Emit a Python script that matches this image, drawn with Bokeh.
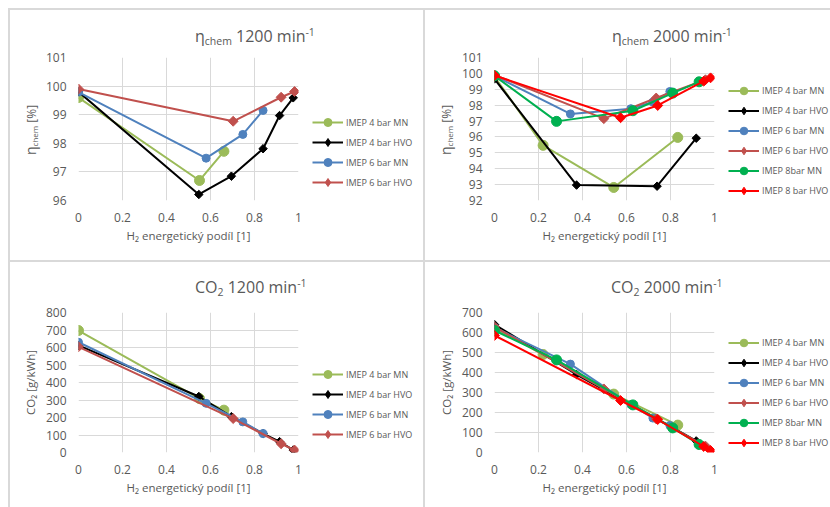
import math
from bokeh.plotting import figure
from bokeh.layouts import row, column
from bokeh.models import (Legend, LegendItem, FixedTicker, NumeralTickFormatter,
                          Range1d, Spacer, Div, InlineStyleSheet)
from bokeh.embed import file_html
from bokeh.resources import INLINE

# ---------------- data ----------------
x_ticks = [0, 0.2, 0.4, 0.6, 0.8, 1.0]
eta1200_ticks = [96, 97, 98, 99, 100, 101]
eta2000_ticks = [92, 93, 94, 95, 96, 97, 98, 99, 100, 101]
co2_1200_ticks = [0, 100, 200, 300, 400, 500, 600, 700, 800]
co2_2000_ticks = [0, 100, 200, 300, 400, 500, 600, 700]

# 1200 min-1
x_4MN_1200 = [0, 0.55, 0.661]
eta_4MN_1200 = [99.6, 96.7, 97.72]
co2_4MN_1200 = [697, 308, 242]

x_4HVO_1200 = [0, 0.547, 0.695, 0.839, 0.914, 0.976]
eta_4HVO_1200 = [99.8, 96.21, 96.85, 97.81, 98.97, 99.59]
co2_4HVO_1200 = [612, 320, 205, 108, 62, 14]

x_6MN_1200 = [0, 0.58, 0.747, 0.839]
eta_6MN_1200 = [99.79, 97.48, 98.31, 99.15]
co2_6MN_1200 = [630, 281, 175, 108]

x_6HVO_1200 = [0, 0.703, 0.921, 0.982]
eta_6HVO_1200 = [99.9, 98.77, 99.61, 99.81]
co2_6HVO_1200 = [604, 194, 50, 14]

# 2000 min-1
x_4MN_2000 = [0, 0.221, 0.542, 0.833]
eta_4MN_2000 = [99.8, 95.47, 92.82, 95.97]
co2_4MN_2000 = [620, 490, 292, 137]

x_4HVO_2000 = [0, 0.373, 0.739, 0.917]
eta_4HVO_2000 = [99.65, 92.97, 92.9, 95.92]
co2_4HVO_2000 = [640, 390, 168, 58]

x_6MN_2000 = [0, 0.345, 0.62, 0.72, 0.797]
eta_6MN_2000 = [99.85, 97.45, 97.78, 98.2, 98.86]
co2_6MN_2000 = [625, 442, 240, 172, 135]

x_6HVO_2000 = [0, 0.497, 0.735, 0.959]
eta_6HVO_2000 = [99.9, 97.15, 98.45, 99.6]
co2_6HVO_2000 = [628, 318, 168, 32]

x_8MN_2000 = [0, 0.282, 0.629, 0.81, 0.93]
eta_8MN_2000 = [99.85, 96.98, 97.65, 98.76, 99.47]
co2_8MN_2000 = [610, 463, 238, 123, 40]

x_8HVO_2000 = [0, 0.573, 0.742, 0.951, 0.982]
eta_8HVO_2000 = [99.87, 97.21, 97.98, 99.51, 99.72]
co2_8HVO_2000 = [585, 260, 165, 30, 10]

names_1200 = ["IMEP 4 bar MN", "IMEP 4 bar HVO", "IMEP 6 bar MN", "IMEP 6 bar HVO"]
names_2000 = ["IMEP 4 bar MN", "IMEP 4 bar HVO", "IMEP 6 bar MN", "IMEP 6 bar HVO",
              "IMEP 8bar MN", "IMEP 8 bar HVO"]

x_label = "H\u2082 energetický podíl [1]"
co2_label = "CO\u2082 [g/kWh]"
eta_title_html = "\u03b7<sub>chem</sub> {rpm} min<sup>-1</sup>"
co2_title_html = "CO<sub>2</sub> {rpm} min<sup>-1</sup>"
eta_ylabel_html = "<span class='big'>\u03b7</span><sub>chem</sub> [%]"

# ---------------- style ----------------
FONT = "Open Sans"
TXT = "#595959"
GRID = "#d9d9d9"
C_LGREEN = "#9bbb59"
C_BLACK = "#000000"
C_BLUE = "#4f81bd"
C_BROWN = "#c0504d"
C_GREEN = "#00b050"
C_RED = "#ff0000"

styles_1200 = [(C_LGREEN, "circle", 10), (C_BLACK, "diamond", 6), (C_BLUE, "circle", 8),
               (C_BROWN, "diamond", 7)]
styles_2000 = [(C_LGREEN, "circle", 10), (C_BLACK, "diamond", 6), (C_BLUE, "circle", 8),
               (C_BROWN, "diamond", 7), (C_GREEN, "circle", 10), (C_RED, "diamond", 7)]

TITLE_CSS = InlineStyleSheet(css=f"""
.box {{ position: relative; width: 100%; height: 100%; margin: 0; padding: 0; }}
.t {{ position: absolute; white-space: nowrap; font-family: '{FONT}'; font-size: 16px;
      line-height: 20px; color: {TXT}; }}
.t sub {{ font-size: 10.5px; vertical-align: -3px; line-height: 0; }}
.t sup {{ font-size: 10.5px; vertical-align: 6px; line-height: 0; }}
""")

YLAB_CSS = InlineStyleSheet(css=f"""
.box {{ position: relative; width: 100%; height: 100%; margin: 0; padding: 0; }}
.yl {{ position: absolute; white-space: nowrap; font-family: '{FONT}'; font-size: 12px;
       line-height: 16px; color: {TXT}; transform: rotate(-90deg); transform-origin: 0 0; }}
.yl .big {{ font-size: 14px; line-height: 0; }}
.yl sub {{ font-size: 8px; vertical-align: -2px; line-height: 0; }}
""")


def title_div(w, html, left, top):
    return Div(width=w, height=38, margin=0, stylesheets=[TITLE_CSS],
               text=f"<div class='box'><span class='t' style='left:{left}px;top:{top}px'>{html}</span></div>")


def ylabel_div(h, left, top):
    return Div(width=30, height=h, margin=0, stylesheets=[YLAB_CSS],
               text=f"<div class='box'><span class='yl' style='left:{left}px;top:{top}px'>{eta_ylabel_html}</span></div>")


def make_fig(w, h, bl, br, bt, bb, yr, yticks):
    p = figure(width=w, height=h, min_border_left=bl, min_border_right=br,
               min_border_top=bt, min_border_bottom=bb,
               x_range=Range1d(0, 1), y_range=Range1d(*yr),
               output_backend="svg", toolbar_location=None)
    p.outline_line_color = None
    for ax in p.axis:
        ax.axis_line_color = None
        ax.major_tick_line_color = None
        ax.minor_tick_line_color = None
        ax.major_tick_out = 0
        ax.major_tick_in = 0
        ax.minor_tick_out = 0
        ax.major_label_text_font = FONT
        ax.major_label_text_font_size = "12px"
        ax.major_label_text_color = TXT
        ax.major_label_standoff = 12
        ax.axis_label_text_font = FONT
        ax.axis_label_text_font_size = "11.5px"
        ax.axis_label_text_color = TXT
        ax.axis_label_text_font_style = "normal"
    p.xaxis.ticker = FixedTicker(ticks=x_ticks)
    p.xaxis.formatter = NumeralTickFormatter(format="0.[0]")
    p.yaxis.ticker = FixedTicker(ticks=yticks)
    p.xaxis.axis_label = x_label
    p.xaxis.axis_label_standoff = 3
    p.grid.grid_line_color = GRID
    p.grid.grid_line_width = 1
    return p


def add_series(p, xs_list, ys_list, styles):
    for xs, ys, (col, mk, sz) in zip(xs_list, ys_list, styles):
        p.line(xs, ys, line_color=col, line_width=2)
        if mk == "diamond":
            p.scatter(xs, ys, marker="square", angle=math.pi / 4, size=sz,
                      fill_color=col, line_color=col)
        else:
            p.scatter(xs, ys, marker="circle", size=sz, fill_color=col, line_color=col)


def legend_fig(w, h, xs_list, ys_list, names, styles, loc, glyph_h, spacing):
    # the same series, drawn outside this panel's visible range; only its legend shows
    lp = figure(width=w, height=h, min_border=0, x_range=Range1d(2, 3), y_range=Range1d(0, 1),
                x_axis_location=None, y_axis_location=None,
                output_backend="svg", toolbar_location=None)
    lp.outline_line_color = None
    lp.grid.visible = False
    items = []
    for xs, ys, name, (col, mk, sz) in zip(xs_list, ys_list, names, styles):
        lr = lp.line(xs, ys, line_color=col, line_width=2)
        sr = lp.scatter(xs, ys, marker=mk, fill_color=col, line_color=col)
        items.append(LegendItem(label=name, renderers=[lr, sr]))
    lp.add_layout(Legend(items=items, location=loc, padding=0, margin=0, spacing=spacing,
                         glyph_width=31, glyph_height=glyph_h, label_height=glyph_h,
                         label_standoff=3, label_text_font=FONT, label_text_font_size="9px",
                         label_text_color=TXT, border_line_color=None,
                         background_fill_alpha=0))
    return lp


xs_1200 = [x_4MN_1200, x_4HVO_1200, x_6MN_1200, x_6HVO_1200]
xs_2000 = [x_4MN_2000, x_4HVO_2000, x_6MN_2000, x_6HVO_2000, x_8MN_2000, x_8HVO_2000]
eta_1200 = [eta_4MN_1200, eta_4HVO_1200, eta_6MN_1200, eta_6HVO_1200]
eta_2000 = [eta_4MN_2000, eta_4HVO_2000, eta_6MN_2000, eta_6HVO_2000, eta_8MN_2000, eta_8HVO_2000]
co2_1200 = [co2_4MN_1200, co2_4HVO_1200, co2_6MN_1200, co2_6HVO_1200]
co2_2000 = [co2_4MN_2000, co2_4HVO_2000, co2_6MN_2000, co2_6HVO_2000, co2_8MN_2000, co2_8HVO_2000]

# ---- top-left ----
tl = make_fig(266, 212, 38, 8, 9, 60, (96, 101), eta1200_ticks)
add_series(tl, xs_1200, eta_1200, styles_1200)
tl_leg = legend_fig(117, 212, xs_1200, eta_1200, names_1200, styles_1200, (6, 8), 20, 0)

# ---- top-right ----
tr = make_fig(267, 212, 39, 8, 9, 60, (92, 101), eta2000_ticks)
add_series(tr, xs_2000, eta_2000, styles_2000)
tr_leg = legend_fig(108, 212, xs_2000, eta_2000, names_2000, styles_2000, (6, 0), 19, 1)

# ---- bottom-left ----
bl = make_fig(296, 207, 68, 8, 9, 55, (0, 800), co2_1200_ticks)
bl.yaxis.axis_label = co2_label
bl.yaxis.axis_label_standoff = 5
add_series(bl, xs_1200, co2_1200, styles_1200)
bl_leg = legend_fig(117, 207, xs_1200, co2_1200, names_1200, styles_1200, (6, 8), 20, 0)

# ---- bottom-right ----
br = make_fig(297, 207, 69, 8, 12, 55, (0, 700), co2_2000_ticks)
br.yaxis.axis_label = co2_label
br.yaxis.axis_label_standoff = 5
add_series(br, xs_2000, co2_2000, styles_2000)
br_leg = legend_fig(108, 207, xs_2000, co2_2000, names_2000, styles_2000, (6, 0), 19, 1)

bg = {"background-color": GRID}


def gray(w, h):
    return Spacer(width=w, height=h, margin=0, styles=bg)


def blank(w, h):
    return Spacer(width=w, height=h, margin=0)


layout = column(
    blank(830, 8),
    row(blank(8, 2), gray(822, 2)),
    row(blank(8, 38), gray(2, 38), title_div(413, eta_title_html.format(rpm="1200"), 185, 4),
        gray(2, 38), title_div(405, eta_title_html.format(rpm="2000"), 187, 4)),
    row(blank(8, 212), gray(2, 212), ylabel_div(212, 14, 95), tl, tl_leg,
        gray(2, 212), ylabel_div(212, 14, 95), tr, tr_leg),
    row(blank(8, 2), gray(822, 2)),
    row(blank(8, 38), gray(2, 38), title_div(413, co2_title_html.format(rpm="1200"), 185, 3),
        gray(2, 38), title_div(405, co2_title_html.format(rpm="2000"), 186, 3)),
    row(blank(8, 207), gray(2, 207), bl, bl_leg, gray(2, 207), br, br_leg),
)

open("out.html", "w").write(file_html(layout, INLINE))
